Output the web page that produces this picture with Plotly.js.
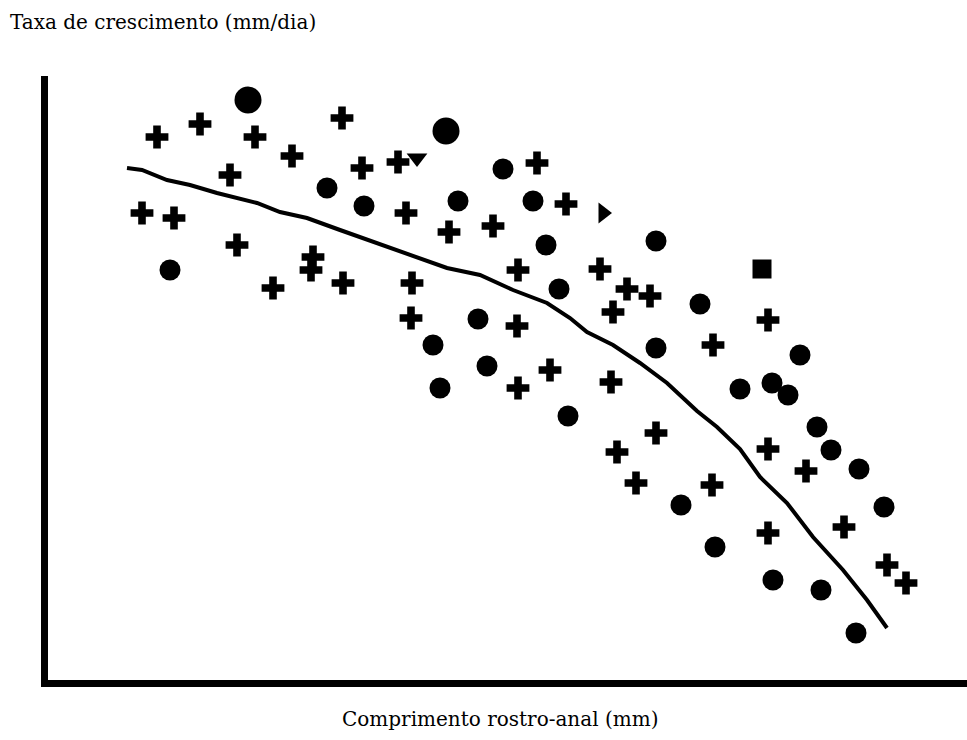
<!DOCTYPE html>
<html>
<head>
<meta charset="utf-8">
<script src="https://cdn.plot.ly/plotly-3.0.1.min.js"></script>
<style>html,body{margin:0;padding:0;background:#fff;}#chart{width:967px;height:740px;}</style>
</head>
<body>
<div id="chart"></div>
<script>
// Values (arbitrary units: x = length, y = growth rate)
const crossX = [109,152,207,294,244,350,314,182,489,94,126,358,518,401,445,189,225,265,263,295,364,470,552,579,602,720,565,363,469,665,470,502,563,720,758,608,569,588,664,720,796,839,858];
const crossY = [543,556,543,562,524,518,512,505,517,467,462,467,476,448,454,435,392,423,410,397,397,410,411,391,384,360,368,362,354,335,292,310,298,231,209,247,228,197,195,147,153,115,97];

const blobX = [279,455,316,410,485,498,608,122,511,652,430,385,608,752,439,392,520,692,724,740,769,783,811,633,836,667,725,773,808];
const blobY = [492,511,474,479,479,435,439,410,391,376,361,335,332,325,314,292,264,291,297,285,253,230,211,175,173,133,100,90,47];

const bigBlobX = [200,398];
const bigBlobY = [580,549];

const triDownX = [369];
const triDownY = [522];
const triRightX = [555];
const triRightY = [467];
const squareX = [714];
const squareY = [411];

// Fitted curve
const fitX = [79,94,119,142,169,209,232,259,292,329,365,399,432,465,499,522,539,565,592,619,649,669,692,712,739,765,795,819,839];
const fitY = [512,510,500,495,487,477,468,462,450,437,425,412,405,390,377,362,348,335,317,297,269,253,231,203,177,143,110,80,52];

const yLabel = "Taxa de crescimento (mm/dia)";
const xLabel = "Comprimento rostro-anal (mm)";

const mk = (x, y, symbol, size) => ({
  x: x, y: y, type: 'scatter', mode: 'markers', hoverinfo: 'skip',
  marker: {symbol: symbol, size: size, color: '#000', line: {width: 0}}
});

const data = [
  {x: fitX, y: fitY, type: 'scatter', mode: 'lines', line: {color: '#000', width: 4}, hoverinfo: 'skip'},
  mk(crossX, crossY, 'cross', 19),
  mk(blobX, blobY, 'circle', 21),
  mk(bigBlobX, bigBlobY, 'circle', 27),
  mk(triDownX, triDownY, 'triangle-down', 18),
  mk(triRightX, triRightY, 'triangle-right', 18),
  mk(squareX, squareY, 'square', 19)
];

const font = {family: 'DejaVu Serif, serif', size: 20, color: '#000'};

const layout = {
  width: 967, height: 740,
  margin: {l: 48, r: 0, t: 76, b: 60},
  paper_bgcolor: '#fff', plot_bgcolor: '#fff',
  showlegend: false,
  font: font,
  title: {text: yLabel, font: font, xref: 'container', x: 10/967, xanchor: 'left', yref: 'container', y: 1 - 22/740, yanchor: 'middle'},
  xaxis: {range: [0, 919], showgrid: false, zeroline: false, showticklabels: false, ticks: '',
          showline: true, linecolor: '#000', linewidth: 7},
  yaxis: {range: [0, 604], showgrid: false, zeroline: false, showticklabels: false, ticks: '',
          showline: true, linecolor: '#000', linewidth: 7},
  annotations: [{text: xLabel, font: font, showarrow: false, xref: 'paper', yref: 'paper',
                 x: (500 - 48) / 919, y: (680 - 719) / 604, xanchor: 'center', yanchor: 'middle'}]
};

Plotly.newPlot('chart', data, layout, {staticPlot: true, displayModeBar: false});
</script>
</body>
</html>
